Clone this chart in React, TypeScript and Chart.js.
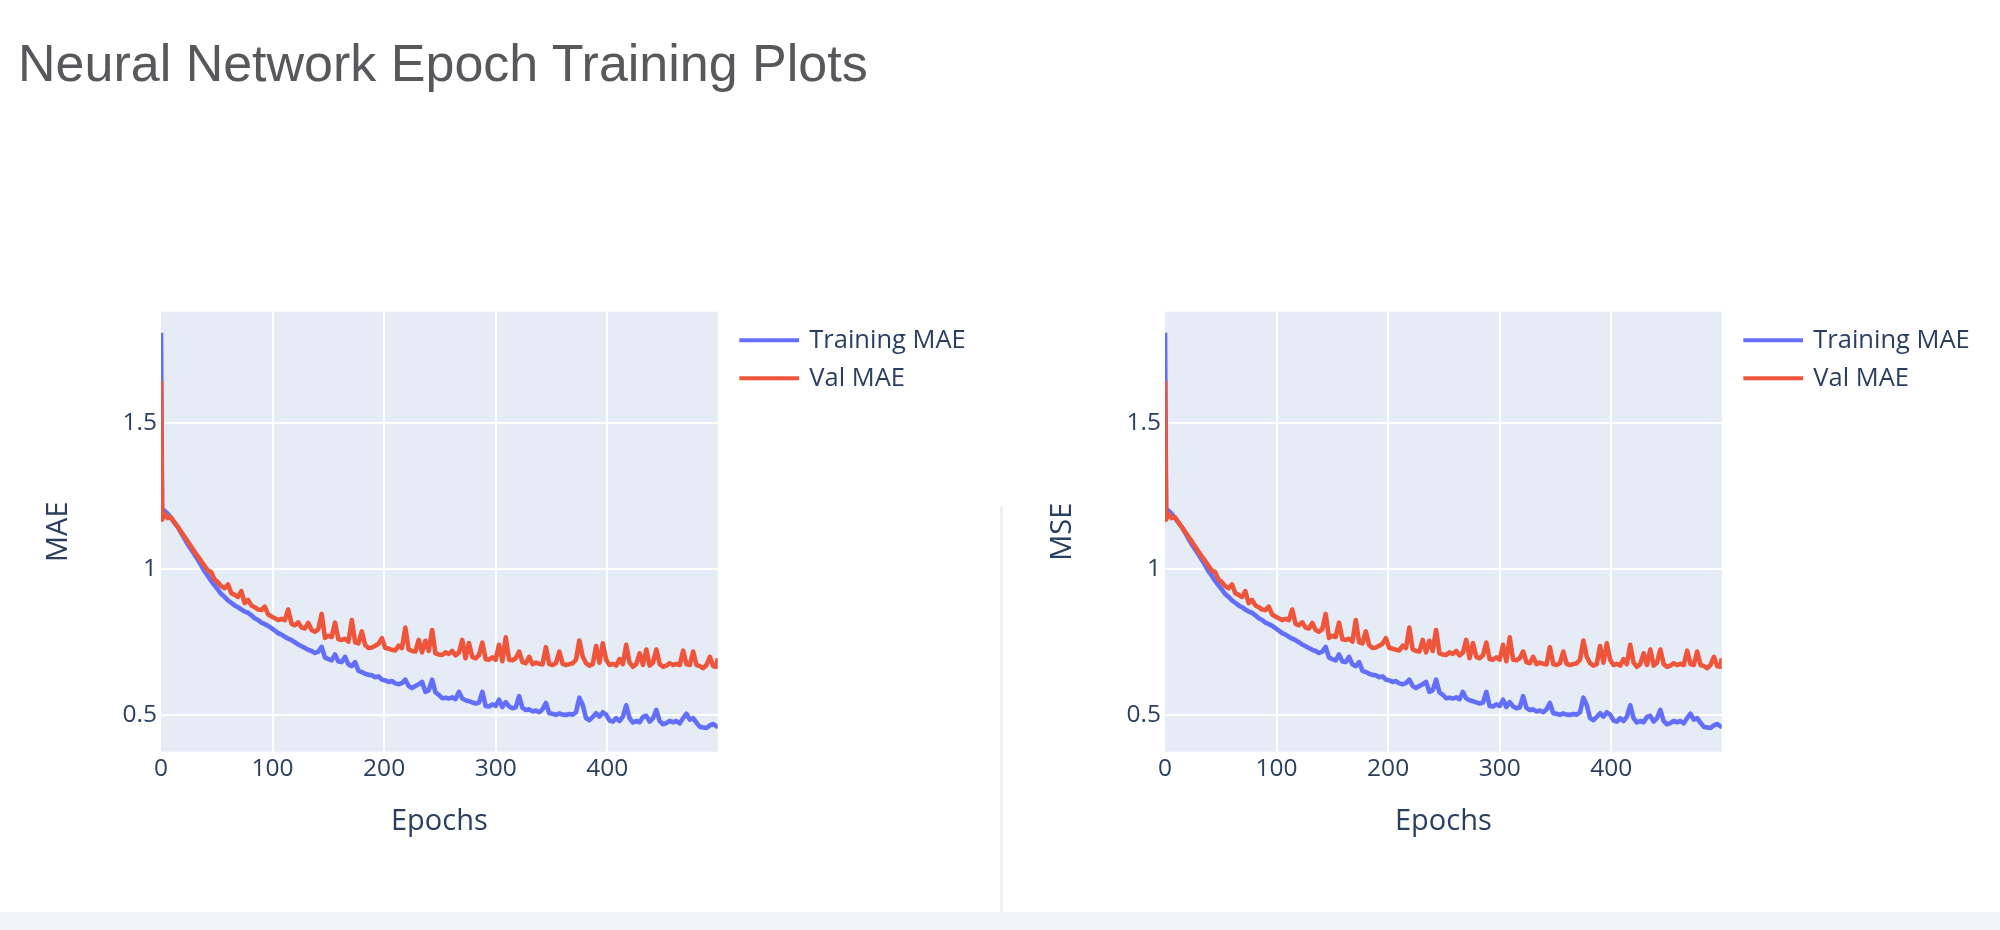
import React, { useEffect, useRef } from 'react';
import { Chart, registerables } from 'chart.js';

Chart.register(...registerables);

// ---- data ----
const EPOCHS = [
  0, 1, 3, 6, 9, 12, 15, 18, 21, 24, 27,
  30, 33, 36, 39, 42, 45, 48, 51, 54, 57,
  60, 63, 66, 69, 72, 75, 78, 81, 84, 87,
  90, 93, 96, 99, 102, 105, 108, 111, 114, 117,
  120, 123, 126, 129, 132, 135, 138, 141, 144, 147,
  150, 153, 156, 159, 162, 165, 168, 171, 174, 177,
  180, 183, 186, 189, 192, 195, 198, 201, 204, 207,
  210, 213, 216, 219, 222, 225, 228, 231, 234, 237,
  240, 243, 246, 249, 252, 255, 258, 261, 264, 267,
  270, 273, 276, 279, 282, 285, 288, 291, 294, 297,
  300, 303, 306, 309, 312, 315, 318, 321, 324, 327,
  330, 333, 336, 339, 342, 345, 348, 351, 354, 357,
  360, 363, 366, 369, 372, 375, 378, 381, 384, 387,
  390, 393, 396, 399, 402, 405, 408, 411, 414, 417,
  420, 423, 426, 429, 432, 435, 438, 441, 444, 447,
  450, 453, 456, 459, 462, 465, 468, 471, 474, 477,
  480, 483, 486, 489, 492, 495, 498,
  499,
];

const TRAIN_MAE = [
  1.81, 1.21, 1.2, 1.19, 1.175, 1.16, 1.145, 1.125, 1.105, 1.085, 1.068,
  1.05, 1.032, 1.013, 0.993, 0.977, 0.96, 0.945, 0.93, 0.915, 0.905,
  0.893, 0.885, 0.876, 0.87, 0.862, 0.855, 0.851, 0.842, 0.832, 0.826,
  0.817, 0.812, 0.806, 0.798, 0.79, 0.781, 0.776, 0.769, 0.762, 0.757,
  0.75, 0.742, 0.736, 0.73, 0.724, 0.72, 0.713, 0.718, 0.734, 0.697,
  0.692, 0.688, 0.708, 0.684, 0.682, 0.7, 0.674, 0.668, 0.682, 0.652,
  0.648, 0.642, 0.638, 0.637, 0.63, 0.633, 0.622, 0.619, 0.614, 0.617,
  0.609, 0.606, 0.61, 0.622, 0.6, 0.593, 0.6, 0.606, 0.614, 0.58,
  0.585, 0.622, 0.578, 0.57, 0.558, 0.56, 0.557, 0.561, 0.555, 0.58,
  0.557, 0.551, 0.548, 0.544, 0.54, 0.543, 0.58, 0.532, 0.53, 0.537,
  0.532, 0.553, 0.528, 0.545, 0.53, 0.524, 0.527, 0.565, 0.525, 0.518,
  0.52, 0.513, 0.516, 0.51, 0.52, 0.542, 0.507, 0.505, 0.501, 0.506,
  0.502, 0.501, 0.504, 0.502, 0.51, 0.56, 0.535, 0.49, 0.483, 0.494,
  0.507, 0.495, 0.51, 0.502, 0.482, 0.478, 0.49, 0.48, 0.495, 0.534,
  0.49, 0.475, 0.48, 0.476, 0.494, 0.498, 0.478, 0.49, 0.518, 0.48,
  0.469, 0.473, 0.48, 0.476, 0.48, 0.472, 0.49, 0.505, 0.485, 0.49,
  0.474, 0.46, 0.458, 0.456, 0.465, 0.47, 0.462,
  0.467,
];

const VAL_MAE = [
  1.645, 1.17, 1.19, 1.175, 1.178, 1.16, 1.145, 1.128, 1.112, 1.095, 1.078,
  1.06, 1.044, 1.028, 1.012, 0.995, 0.99, 0.965, 0.955, 0.942, 0.935,
  0.948, 0.918, 0.912, 0.905, 0.925, 0.884, 0.895, 0.876, 0.87, 0.862,
  0.86, 0.872, 0.845, 0.838, 0.832, 0.826, 0.83, 0.826, 0.862, 0.813,
  0.808, 0.818, 0.8, 0.797, 0.816, 0.792, 0.786, 0.795, 0.847, 0.765,
  0.772, 0.768, 0.817, 0.76, 0.758, 0.762, 0.752, 0.826, 0.75, 0.746,
  0.787, 0.74, 0.73, 0.732, 0.738, 0.745, 0.764, 0.73, 0.728, 0.724,
  0.722, 0.738, 0.73, 0.8, 0.725, 0.72, 0.718, 0.758, 0.715, 0.755,
  0.72, 0.792, 0.712, 0.708, 0.706, 0.715, 0.71, 0.72, 0.705, 0.714,
  0.758, 0.695, 0.747, 0.7, 0.695, 0.705, 0.749, 0.692, 0.69, 0.698,
  0.69, 0.741, 0.685, 0.767, 0.69, 0.688, 0.695, 0.718, 0.682, 0.678,
  0.7, 0.675, 0.68, 0.676, 0.674, 0.733, 0.675, 0.672, 0.678, 0.718,
  0.676, 0.672, 0.675, 0.678, 0.69, 0.756, 0.7, 0.678, 0.67, 0.675,
  0.737, 0.68, 0.746, 0.69, 0.672, 0.676, 0.67, 0.692, 0.675, 0.741,
  0.68, 0.666, 0.675, 0.712, 0.672, 0.725, 0.67, 0.68, 0.725, 0.675,
  0.666, 0.67, 0.678, 0.672, 0.676, 0.672, 0.721, 0.675, 0.672, 0.718,
  0.672, 0.668, 0.661, 0.672, 0.7, 0.668, 0.666,
  0.695,
];

const SERIES_LABELS = ['Training MAE', 'Val MAE'];
const SERIES_COLORS = ['#636efa', '#EF553B'];
const X_TICKS = [0, 100, 200, 300, 400];
const Y_TICKS = [0.5, 1, 1.5];
const Y_TICK_LABELS = ['0.5', '1', '1.5'];
const PANEL_Y_TITLES = ['MAE', 'MSE'];
const X_TITLE = 'Epochs';
const PAGE_TITLE = 'Neural Network Epoch Training Plots';

// ---- styles ----
const FONT = "'Open Sans', verdana, arial, sans-serif";
const TEXT_COLOR = '#2a3f5f';
const PLOT_BG = '#E5ECF6';
const CANVAS_H = 620;

const plotBgPlugin = {
  id: 'plotBg',
  beforeDraw(chart: any) {
    const { ctx, chartArea } = chart;
    ctx.save();
    ctx.fillStyle = PLOT_BG;
    ctx.fillRect(chartArea.left, chartArea.top, chartArea.right - chartArea.left, chartArea.bottom - chartArea.top);
    ctx.restore();
  },
};

const sideLegendPlugin = {
  id: 'sideLegend',
  afterDraw(chart: any) {
    const { ctx, chartArea } = chart;
    ctx.save();
    chart.data.datasets.forEach((ds: any, i: number) => {
      const y = chartArea.top + 28.6 + i * 38;
      const x0 = chartArea.right + 21.6;
      ctx.strokeStyle = ds.borderColor;
      ctx.lineWidth = 4;
      ctx.lineCap = 'butt';
      ctx.beginPath();
      ctx.moveTo(x0, y);
      ctx.lineTo(x0 + 59.7, y);
      ctx.stroke();
      ctx.fillStyle = TEXT_COLOR;
      ctx.font = `25.5px ${FONT}`;
      ctx.textBaseline = 'middle';
      ctx.textAlign = 'left';
      ctx.fillText(ds.label, x0 + 70, y);
    });
    ctx.restore();
  },
};

function TrainingPanel({ yTitle, left, width }: { yTitle: string; left: number; width: number }) {
  const ref = useRef<HTMLCanvasElement | null>(null);

  useEffect(() => {
    const canvas = ref.current;
    if (!canvas) return;
    const series = [TRAIN_MAE, VAL_MAE];
    const chart = new Chart(canvas, {
      type: 'line',
      data: {
        datasets: series.map((vals, i) => ({
          label: SERIES_LABELS[i],
          data: EPOCHS.map((e, j) => ({ x: e, y: vals[j] })),
          borderColor: SERIES_COLORS[i],
          backgroundColor: SERIES_COLORS[i],
          borderWidth: 4.6,
          borderJoinStyle: 'round',
          pointRadius: 0,
          tension: 0,
          fill: false,
          order: i === 0 ? 1 : 0,
        })),
      },
      options: {
        responsive: false,
        animation: false,
        devicePixelRatio: 1,
        layout: { padding: { top: 61.7, right: width - 717.7, left: 0, bottom: 0 } },
        plugins: {
          legend: { display: false },
          tooltip: { enabled: false },
        },
        scales: {
          x: {
            type: 'linear',
            min: 0,
            max: 499,
            afterFit: (s: any) => {
              s.height = CANVAS_H - 501.7;
            },
            afterBuildTicks: (s: any) => {
              s.ticks = X_TICKS.map((v) => ({ value: v }));
            },
            border: { display: false },
            grid: {
              drawTicks: false,
              lineWidth: 2,
              color: (c: any) => (c.tick && c.tick.value === 0 ? 'rgba(0,0,0,0)' : '#ffffff'),
            },
            ticks: {
              autoSkip: false,
              maxRotation: 0,
              padding: 3,
              color: TEXT_COLOR,
              font: { family: FONT, size: 24.5, lineHeight: 1.2 },
              callback: (v: any) => String(v),
            },
            title: {
              display: true,
              text: X_TITLE,
              color: TEXT_COLOR,
              font: { family: FONT, size: 29, lineHeight: 1.2 },
              padding: { top: 0, bottom: 30.8 },
            },
          },
          y: {
            type: 'linear',
            min: 0.375,
            max: 1.882,
            afterFit: (s: any) => {
              s.width = 161;
            },
            afterBuildTicks: (s: any) => {
              s.ticks = Y_TICKS.map((v) => ({ value: v }));
            },
            border: { display: false },
            grid: { drawTicks: false, lineWidth: 2, color: '#ffffff' },
            ticks: {
              padding: 4,
              color: TEXT_COLOR,
              font: { family: FONT, size: 24.5, lineHeight: 1.2 },
              callback: (v: any) => {
                const k = Y_TICKS.indexOf(Number(v));
                return k >= 0 ? Y_TICK_LABELS[k] : '';
              },
            },
            title: {
              display: true,
              text: yTitle,
              color: TEXT_COLOR,
              font: { family: FONT, size: 29, lineHeight: 1.2 },
              padding: { top: 41.3, bottom: 0 },
            },
          },
        },
      } as any,
      plugins: [plotBgPlugin, sideLegendPlugin],
    });
    return () => chart.destroy();
  }, [yTitle, width]);

  return (
    <canvas
      ref={ref}
      width={width}
      height={CANVAS_H}
      style={{ position: 'absolute', left, top: 250, width, height: CANVAS_H, display: 'block' }}
    />
  );
}

export default function App() {
  return (
    <div
      style={{
        position: 'absolute',
        left: 0,
        top: 0,
        width: 2000,
        height: 930,
        overflow: 'hidden',
        background: '#ffffff',
      }}
    >
      <div
        style={{
          position: 'absolute',
          left: 18,
          top: 37,
          margin: 0,
          fontFamily: "'Liberation Sans', Arial, Helvetica, sans-serif",
          fontSize: 52,
          lineHeight: '52px',
          color: '#58585c',
          whiteSpace: 'nowrap',
        }}
      >
        {PAGE_TITLE}
      </div>
      <TrainingPanel yTitle={PANEL_Y_TITLES[0]} left={0} width={1000} />
      <TrainingPanel yTitle={PANEL_Y_TITLES[1]} left={1004} width={996} />
      <div style={{ position: 'absolute', left: 1000, top: 506, width: 3, height: 406, background: '#f1f2f4' }} />
      <div style={{ position: 'absolute', left: 0, top: 912, width: 2000, height: 18, background: '#f3f4f6' }} />
    </div>
  );
}
